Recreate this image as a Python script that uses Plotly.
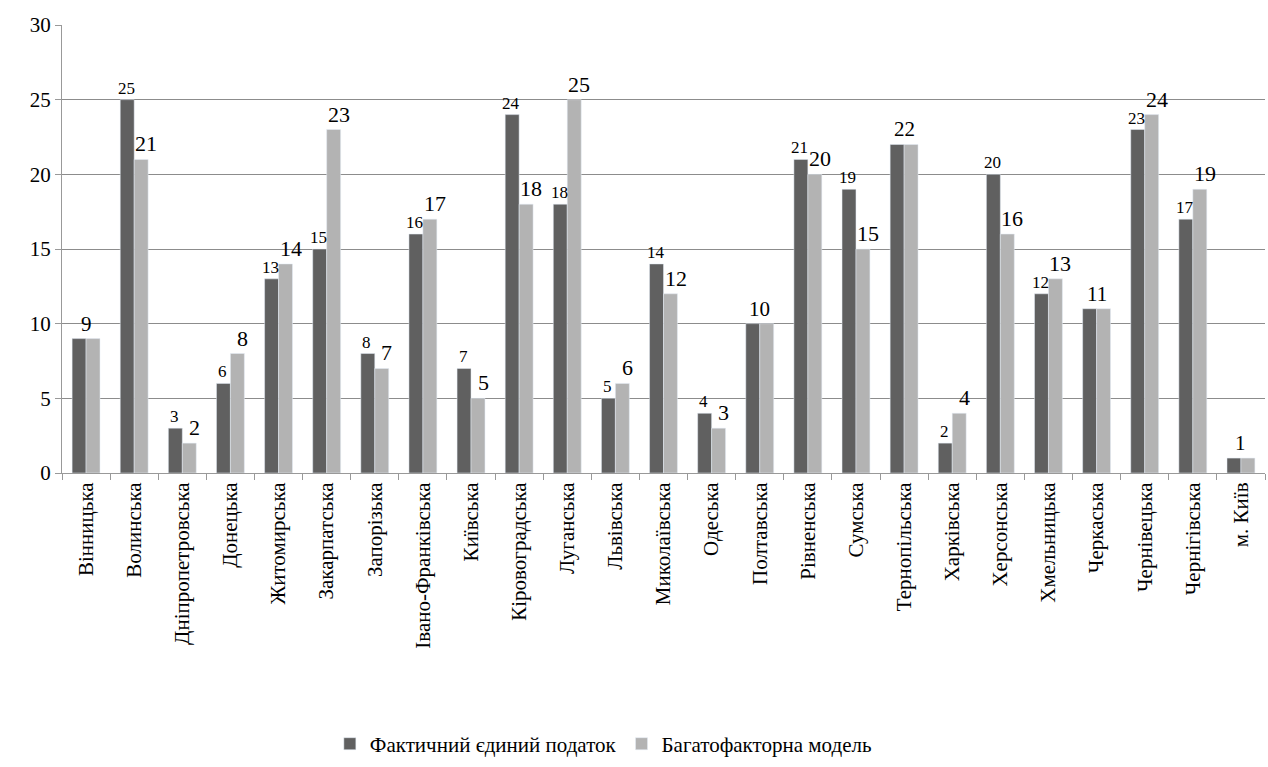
import plotly.graph_objects as go

regions = ["Вінницька", "Волинська", "Дніпропетровська", "Донецька", "Житомирська",
           "Закарпатська", "Запорізька", "Івано-Франківська", "Київська", "Кіровоградська",
           "Луганська", "Львівська", "Миколаївська", "Одеська", "Полтавська", "Рівненська",
           "Сумська", "Тернопільська", "Харківська", "Херсонська", "Хмельницька", "Черкаська",
           "Чернівецька", "Чернігівська", "м. Київ"]
actual = [9, 25, 3, 6, 13, 15, 8, 16, 7, 24, 18, 5, 14, 4, 10, 21, 19, 22, 2, 20, 12, 11, 23, 17, 1]
model = [9, 21, 2, 8, 14, 23, 7, 17, 5, 18, 25, 6, 12, 3, 10, 20, 15, 22, 4, 16, 13, 11, 24, 19, 1]
name_actual = "Фактичний єдиний податок"
name_model = "Багатофакторна модель"

FONT = "Liberation Serif, Times New Roman, serif"
DARK = "#606060"
LIGHT = "#b3b3b3"

fig = go.Figure()
fig.add_trace(go.Bar(x=regions, y=actual, name=name_actual, marker_color=DARK))
fig.add_trace(go.Bar(x=regions, y=model, name=name_model, marker_color=LIGHT))

# value labels: dark series smaller, light series larger; equal values share one centred label
for r, a, m in zip(regions, actual, model):
    if a == m:
        fig.add_annotation(x=r, y=a, text=str(a), showarrow=False, yanchor="bottom",
                           yshift=1, font=dict(family=FONT, size=21, color="black"))
    else:
        fig.add_annotation(x=r, y=a, text=str(a), showarrow=False, yanchor="bottom",
                           xshift=-8, yshift=0, font=dict(family=FONT, size=17, color="black"))
        fig.add_annotation(x=r, y=m, text=str(m), showarrow=False, yanchor="bottom",
                           xshift=12, yshift=1, font=dict(family=FONT, size=22, color="black"))

fig.update_layout(
    width=1268, height=767,
    margin=dict(l=62, r=3, t=25, b=292),
    paper_bgcolor="white", plot_bgcolor="white",
    barmode="group", bargap=0.42, bargroupgap=0,
    font=dict(family=FONT, size=21, color="black"),
    showlegend=True,
    legend=dict(orientation="h", x=0.45, xanchor="center", y=-0.605, yanchor="middle",
                font=dict(family=FONT, size=21)),
    xaxis=dict(tickangle=-90, tickson="boundaries", ticks="outside", ticklen=6,
               tickcolor="#999999", showline=True, linecolor="#999999", linewidth=1,
               showgrid=False, tickfont=dict(family=FONT, size=21)),
    yaxis=dict(range=[0, 30], dtick=5, showgrid=True, gridcolor="#8c8c8c", gridwidth=1,
               showline=True, linecolor="#999999", ticks="outside", ticklen=6,
               tickcolor="#999999", zeroline=False, tickfont=dict(family=FONT, size=21)),
)

fig.write_html("out.html")
